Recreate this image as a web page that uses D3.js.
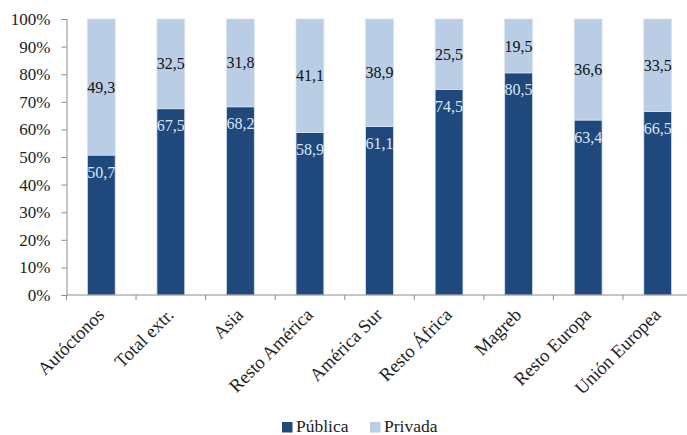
<!DOCTYPE html>
<html>
<head>
<meta charset="utf-8">
<script src="https://cdn.jsdelivr.net/npm/d3@7"></script>
<style>
  html, body { margin: 0; padding: 0; background: #fff; }
  svg { display: block; }
  svg text { font-family: "Liberation Serif", "Times New Roman", Times, "DejaVu Serif", serif !important; }
</style>
</head>
<body>
<svg id="chart" width="687" height="435"></svg>
<script>
// Shares of public vs. private (percent) by origin group
const categories = ["Autóctonos", "Total extr.", "Asia", "Resto América", "América Sur",
                    "Resto África", "Magreb", "Resto Europa", "Unión Europea"];
const publica = [50.7, 67.5, 68.2, 58.9, 61.1, 74.5, 80.5, 63.4, 66.5];
const privada = [49.3, 32.5, 31.8, 41.1, 38.9, 25.5, 19.5, 36.6, 33.5];
const seriesNames = ["Pública", "Privada"];
const yTicks = [0, 10, 20, 30, 40, 50, 60, 70, 80, 90, 100];

const colors = { "Pública": "#1f497d", "Privada": "#b9cde5" };
const labelColors = { "Pública": "#dce6f2", "Privada": "#111" };

const svg = d3.select("#chart");
const plot = { left: 66.5, right: 692.5, top: 19, bottom: 295 };

const x = d3.scaleBand().domain(categories).range([plot.left, plot.right]).paddingInner(0.6).paddingOuter(0.3);
const y = d3.scaleLinear().domain([0, 100]).range([plot.bottom, plot.top]);

const rows = categories.map((c, i) => ({ cat: c, "Pública": publica[i], "Privada": privada[i] }));
const stacked = d3.stack().keys(seriesNames)(rows);

const fmt = v => d3.format(".1f")(v).replace(".", ",");

// stacked bars
const layers = svg.append("g").selectAll("g").data(stacked).join("g")
  .attr("fill", d => colors[d.key]);
layers.selectAll("rect").data(d => d.map(p => ({ p, key: d.key }))).join("rect")
  .attr("x", d => x(d.p.data.cat))
  .attr("y", d => y(d.p[1]))
  .attr("width", x.bandwidth())
  .attr("height", d => y(d.p[0]) - y(d.p[1]))
  .attr("stroke", "#d8e2ef")
  .attr("stroke-width", 0.8);

// value labels: public near the top of its segment, private centred in its segment
const labels = svg.append("g").attr("font-size", 16).attr("text-anchor", "middle");
stacked.forEach(layer => {
  labels.selectAll(null).data(layer).join("text")
    .attr("x", d => x(d.data.cat) + x.bandwidth() / 2)
    .attr("y", d => layer.key === "Pública" ? y(d[1]) + 17 : (y(d[0]) + y(d[1])) / 2)
    .attr("dy", "0.35em")
    .attr("fill", labelColors[layer.key])
    .text(d => fmt(d.data[layer.key]));
});

// y axis
const yAxis = svg.append("g").attr("transform", `translate(${plot.left},0)`)
  .call(d3.axisLeft(y).tickValues(yTicks).tickSize(5).tickPadding(11).tickFormat(d => d + "%"));
yAxis.select(".domain").attr("stroke", "#8c8c8c");
yAxis.selectAll(".tick line").attr("stroke", "#8c8c8c");
yAxis.selectAll(".tick text").attr("font-size", 17).attr("fill", "#222");

// x axis with boundary ticks between categories
const xAxisG = svg.append("g").attr("transform", `translate(0,${plot.bottom})`);
xAxisG.append("line").attr("x1", plot.left).attr("x2", plot.right).attr("stroke", "#8c8c8c");
const step = x.step();
const boundaries = d3.range(categories.length + 1).map(i => plot.left + i * step);
xAxisG.selectAll(".bt").data(boundaries).join("line")
  .attr("x1", d => d).attr("x2", d => d).attr("y1", 0).attr("y2", 5)
  .attr("stroke", "#8c8c8c");
xAxisG.selectAll(".cl").data(categories).join("text")
  .attr("font-size", 18.5)
  .attr("fill", "#222")
  .attr("text-anchor", "end")
  .attr("transform", d => `translate(${x(d) + x.bandwidth() / 2 + 4},${21}) rotate(-45)`)
  .text(d => d);

// legend
const legend = svg.append("g").attr("transform", "translate(282,422)");
const legItems = legend.selectAll("g").data(seriesNames).join("g")
  .attr("transform", (d, i) => `translate(${i * 88},0)`);
legItems.append("rect").attr("width", 10.5).attr("height", 10.5)
  .attr("fill", d => colors[d]);
legItems.append("text").attr("x", 14).attr("y", 10).attr("font-size", 17.5).attr("fill", "#222")
  .text(d => d);
</script>
</body>
</html>
